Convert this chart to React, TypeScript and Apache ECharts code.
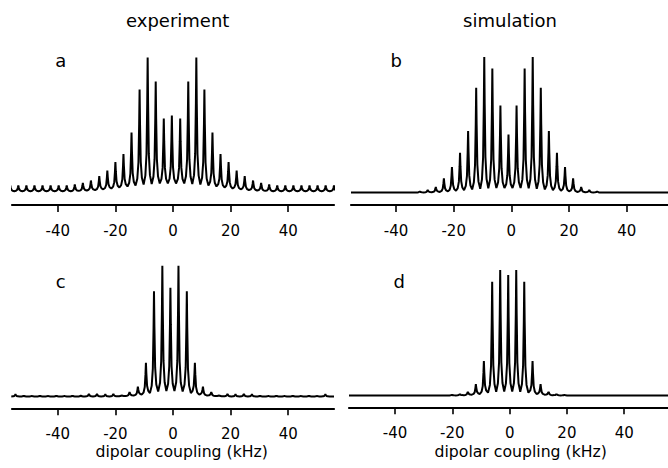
import React, { useEffect, useRef } from "react";
import * as echarts from "echarts";

// ---------- tick labels / texts ----------
const TICK_VALUES = [-40, -20, 0, 20, 40];
const COLUMN_TITLES = ["experiment", "simulation"];
const PANEL_LETTERS = ["a", "b", "c", "d"];
const X_NAME = "dipolar coupling (kHz)";

// ---------- panel a (experiment) : peak positions (kHz), peak heights, valley heights (a.u.) ----------
const aPositions = [-56.5, -53.7, -50.9, -48.1, -45.3, -42.5, -39.7, -36.9, -34.1, -31.3, -28.5, -25.6, -22.8, -20.0, -17.2, -14.4, -11.6, -8.8, -6.0, -3.2, -0.4, 2.5, 5.3, 8.1, 10.9, 13.7, 16.5, 19.3, 22.1, 24.9, 27.8, 30.6, 33.4, 36.2, 39.0, 41.8, 44.6, 47.4, 50.2, 53.0, 55.9];
const aPeaks = [6, 6, 6, 6, 6, 6, 6, 6, 7, 8.5, 11, 15.5, 21, 29.5, 37.5, 59, 102, 134, 110, 73, 76, 73, 110, 134, 102, 59, 37.5, 29.5, 21, 15.5, 11, 8.5, 7, 6, 6, 6, 6, 6, 6, 6, 6];
const aValleys = [0.3, 0.3, 0.3, 0.3, 0.3, 0.3, 0.3, 0.3, 0.3, 0.6, 1.0, 1.5, 2.2, 3.0, 4.0, 5.0, 6.0, 7.0, 7.5, 8, 8, 8, 8, 7.5, 7.0, 6.0, 5.0, 4.0, 3.0, 2.2, 1.5, 1.0, 0.6, 0.3, 0.3, 0.3, 0.3, 0.3, 0.3, 0.3, 0.3, 0.3];

// ---------- panel b (simulation) ----------
const bPositions = [-31.8, -29.0, -26.2, -23.4, -20.6, -17.8, -15.0, -12.2, -9.4, -6.6, -3.8, -1.0, 1.8, 4.6, 7.4, 10.2, 13.0, 15.8, 18.6, 21.4, 24.2, 27.0, 29.8];
const bPeaks = [1.2, 2.5, 5.5, 14.2, 25.5, 39.8, 61.5, 104.8, 135.5, 124, 87, 58, 87, 124, 135.5, 104.8, 61.5, 39.8, 25.5, 14.2, 5.5, 2.5, 1.2];
const bValleys = [0, 0.1, 0.3, 0.6, 1.1, 1.7, 2.4, 3.1, 3.8, 4.3, 4.5, 4.5, 4.5, 4.5, 4.3, 3.8, 3.1, 2.4, 1.7, 1.1, 0.6, 0.3, 0.1, 0];

// ---------- panel c (experiment) ----------
const cPositions = [-54.7, -51.8, -49.0, -46.2, -43.4, -40.5, -37.7, -34.9, -32.0, -29.2, -26.4, -23.5, -20.7, -17.9, -15.1, -12.2, -9.4, -6.6, -3.7, -0.9, 1.9, 4.8, 7.6, 10.4, 13.3, 16.1, 18.9, 21.7, 24.6, 27.4, 30.2, 33.1, 35.9, 38.7, 41.6, 44.4, 47.2, 50.0, 52.9];
const cPeaks = [2.2, 0.8, 0.6, 0.8, 0.6, 0.8, 0.6, 0.8, 1.0, 2.5, 2.5, 2.2, 2.5, 1.2, 4.5, 9.8, 33.8, 105.3, 130.8, 108.8, 130.8, 105.3, 33.8, 9.8, 4.5, 1.2, 2.5, 2.2, 2.5, 2.2, 0.8, 0.6, 0.8, 0.6, 0.8, 0.6, 0.8, 0.6, 2.2];
const cValleys = [0, 0, 0, 0, 0, 0, 0, 0, 0, 0, 0, 0, 0, 0.2, 0.5, 1, 2, 3.5, 5, 5.5, 5.5, 5, 3.5, 2, 1, 0.5, 0.2, 0, 0, 0, 0, 0, 0, 0, 0, 0, 0, 0, 0, 0];

// ---------- panel d (simulation) ----------
const dPositions = [-20.2, -17.4, -14.6, -11.8, -9.0, -6.1, -3.3, -0.5, 2.3, 5.1, 8.0, 10.8, 13.6, 16.4, 19.2];
const dPeaks = [0.6, 1.5, 3.7, 11.5, 34.5, 113.8, 125.5, 120.5, 125.5, 113.8, 34.5, 11.5, 3.7, 1.5, 0.6];
const dValleys = [0, 0.1, 0.3, 0.8, 1.5, 2.8, 3.8, 4, 4, 3.8, 2.8, 1.5, 0.8, 0.3, 0.1, 0];

// Builds a spectrum trace (peak apex, narrow flanks, valleys) from the arrays above.
function buildTrace(pos: number[], peaks: number[], valleys: number[], xMin: number, xMax: number) {
  const OFF = [0.8, 0.4, 0.15];
  const FR = [0.07, 0.24, 0.64];
  const pts: number[][] = [];
  const n = pos.length;
  const firstMid = pos[0] - (pos[1] - pos[0]) / 2;
  if (xMin < firstMid) pts.push([xMin, valleys[0]]);
  for (let i = 0; i < n; i++) {
    const p = pos[i];
    const h = peaks[i];
    const vl = valleys[i];
    const vr = valleys[i + 1];
    const leftMid = i === 0 ? firstMid : (pos[i - 1] + p) / 2;
    pts.push([leftMid, vl]);
    for (let j = 0; j < 3; j++) pts.push([p - OFF[j], vl + (h - vl) * FR[j]]);
    pts.push([p, h]);
    for (let j = 2; j >= 0; j--) pts.push([p + OFF[j], vr + (h - vr) * FR[j]]);
  }
  const lastMid = pos[n - 1] + (pos[n - 1] - pos[n - 2]) / 2;
  pts.push([lastMid, valleys[n]]);
  if (xMax > lastMid) pts.push([xMax, valleys[n]]);
  return pts;
}

const FONT = "'DejaVu Sans', Arial, sans-serif";
const GRID_H = 170;

const PANELS = [
  { left: 12, width: 322, axisY: 205, baseY: 191.5, xMin: -55.9, xMax: 55.9, pos: aPositions, peaks: aPeaks, valleys: aValleys },
  { left: 351, width: 317, axisY: 205, baseY: 192.5, xMin: -55.6, xMax: 54.3, pos: bPositions, peaks: bPeaks, valleys: bValleys },
  { left: 12, width: 322, axisY: 408.3, baseY: 396.5, xMin: -55.9, xMax: 55.9, pos: cPositions, peaks: cPeaks, valleys: cValleys },
  { left: 349, width: 319, axisY: 407.3, baseY: 395.5, xMin: -56.1, xMax: 55.3, pos: dPositions, peaks: dPeaks, valleys: dValleys },
];

const LETTER_POS = [
  [60.8, 60.5],
  [396.2, 60.5],
  [60.8, 281],
  [399.2, 281],
];

export default function App() {
  const ref = useRef<HTMLDivElement>(null);
  useEffect(() => {
    if (!ref.current) return;
    const chart = echarts.init(ref.current, undefined, { renderer: "svg" });

    const grid = PANELS.map((p) => ({
      left: p.left,
      top: p.axisY - GRID_H,
      width: p.width,
      height: GRID_H,
      containLabel: false,
      outerBoundsMode: "none",
    }));
    const xAxis = PANELS.map((p, i) => ({
      type: "value",
      gridIndex: i,
      min: p.xMin,
      max: p.xMax,
      axisLine: { show: true, onZero: false, lineStyle: { color: "#000", width: 2.2 } },
      axisTick: { show: true, inside: false, length: 7, customValues: TICK_VALUES, lineStyle: { color: "#000", width: 1.6 } },
      axisLabel: { show: true, customValues: TICK_VALUES, margin: 18, fontSize: 15, fontFamily: FONT, color: "#000" },
      splitLine: { show: false },
    }));
    const yAxis = PANELS.map((p, i) => {
      const yMin = -(p.axisY - p.baseY);
      return { type: "value", gridIndex: i, min: yMin, max: yMin + GRID_H, show: false, splitLine: { show: false } };
    });
    const series = PANELS.map((p, i) => ({
      type: "line",
      xAxisIndex: i,
      yAxisIndex: i,
      data: buildTrace(p.pos, p.peaks, p.valleys, p.xMin, p.xMax),
      showSymbol: false,
      symbol: "none",
      silent: true,
      clip: true,
      lineStyle: { color: "#000", width: 2 },
    }));

    const texts: any[] = [];
    texts.push({ type: "text", x: 177.7, y: 20.5, style: { text: COLUMN_TITLES[0], fontSize: 18, fontFamily: FONT, fill: "#000", align: "center", verticalAlign: "middle" } });
    texts.push({ type: "text", x: 510, y: 20.5, style: { text: COLUMN_TITLES[1], fontSize: 18, fontFamily: FONT, fill: "#000", align: "center", verticalAlign: "middle" } });
    PANEL_LETTERS.forEach((l, i) => {
      texts.push({ type: "text", x: LETTER_POS[i][0], y: LETTER_POS[i][1], style: { text: l, fontSize: 18, fontFamily: FONT, fill: "#000", align: "center", verticalAlign: "middle" } });
    });
    texts.push({ type: "text", x: 181.7, y: 451, style: { text: X_NAME, fontSize: 15.7, fontFamily: FONT, fill: "#000", align: "center", verticalAlign: "middle" } });
    texts.push({ type: "text", x: 520.7, y: 451, style: { text: X_NAME, fontSize: 15.7, fontFamily: FONT, fill: "#000", align: "center", verticalAlign: "middle" } });

    chart.setOption({
      animation: false,
      backgroundColor: "#fff",
      grid,
      xAxis,
      yAxis,
      series,
      graphic: texts,
    });
    return () => chart.dispose();
  }, []);
  return <div ref={ref} style={{ position: "fixed", left: 0, top: 0, width: 668, height: 468 }} />;
}
